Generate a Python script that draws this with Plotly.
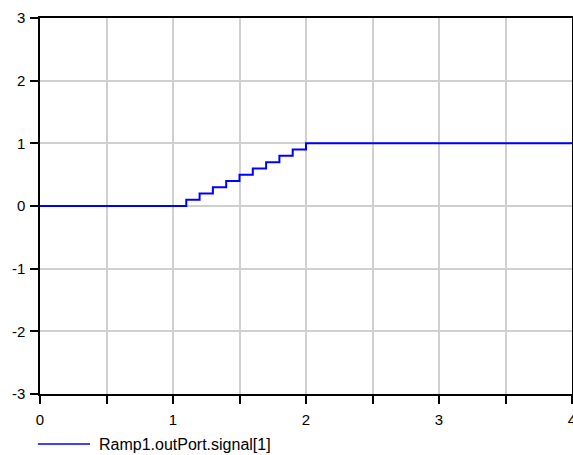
import plotly.graph_objects as go

# Ramp output sampled as a held (zero-order) signal
t = [0.0, 1.1, 1.2, 1.3, 1.4, 1.5, 1.6, 1.7, 1.8, 1.9, 2.0, 4.0]
signal = [0.0, 0.1, 0.2, 0.3, 0.4, 0.5, 0.6, 0.7, 0.8, 0.9, 1.0, 1.0]
series_name = "Ramp1.outPort.signal[1]"
line_color = "#0000ff"

x_ticks = [0, 0.5, 1, 1.5, 2, 2.5, 3, 3.5, 4]
x_labels = ["0", "", "1", "", "2", "", "3", "", "4"]
y_ticks = [-3, -2, -1, 0, 1, 2, 3]
y_labels = ["-3", "-2", "-1", "0", "1", "2", "3"]

FAMILY = "Liberation Sans, Arial, sans-serif"
TICK_FONT = dict(family=FAMILY, size=15, color="black")
LEGEND_FONT = dict(family=FAMILY, size=16, color="black")

fig = go.Figure()
fig.add_trace(go.Scatter(
    x=t, y=signal, mode="lines", line_shape="hv",
    line=dict(color=line_color, width=2),
    name=series_name, showlegend=False,
))

axis_common = dict(
    showline=True, linecolor="black", linewidth=1.5, mirror=True,
    gridcolor="#d0d0d0", gridwidth=1.5, zeroline=False,
    ticks="outside", ticklen=8, tickwidth=1.5, tickcolor="black",
    tickfont=TICK_FONT, ticklabeloverflow="allow", automargin=False,
)

fig.update_layout(
    width=573, height=455,
    margin=dict(l=40, r=1, t=18, b=61),
    plot_bgcolor="white", paper_bgcolor="white",
    xaxis=dict(range=[0, 4], tickmode="array", tickvals=x_ticks, ticktext=x_labels,
               ticklabelstandoff=3, **axis_common),
    yaxis=dict(range=[-3, 3], tickmode="array", tickvals=y_ticks, ticktext=y_labels,
               ticklabelstandoff=2, **axis_common),
    showlegend=False,
)

# Legend entry below the plot: line sample plus series name
legend_y = -0.133
fig.add_shape(type="line", xref="paper", yref="paper",
              x0=-0.004, x1=0.094, y0=legend_y, y1=legend_y,
              line=dict(color=line_color, width=1.5))
fig.add_annotation(xref="paper", yref="paper", x=0.107, y=legend_y,
                   xanchor="left", yanchor="middle", showarrow=False,
                   text=series_name, font=LEGEND_FONT)

fig.write_html("out.html")
